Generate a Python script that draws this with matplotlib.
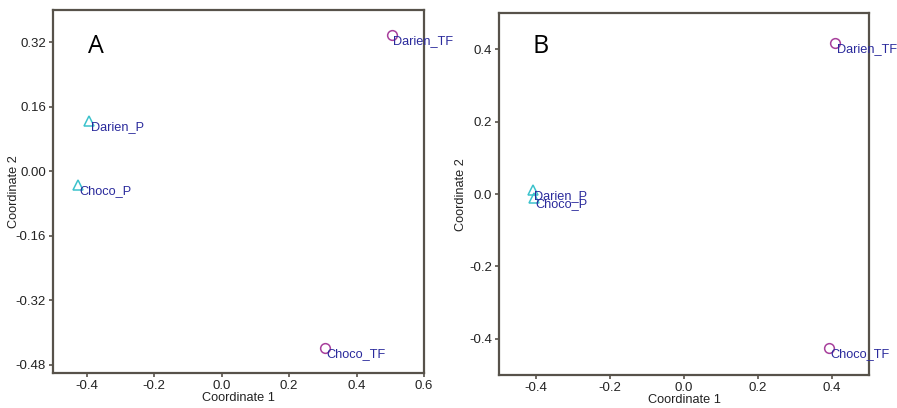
import numpy as np
import matplotlib
matplotlib.use("Agg")
import matplotlib.pyplot as plt

plt.rcParams['font.family'] = ['Liberation Sans', 'DejaVu Sans']

# panel A (PCoA coordinates)
labels_a = ["Darien_TF", "Darien_P", "Choco_P", "Choco_TF"]
coord1_a = [0.504, -0.392, -0.425, 0.306]
coord2_a = [0.339, 0.126, -0.033, -0.437]
groups_a = ["TF", "P", "P", "TF"]

# panel B
labels_b = ["Darien_TF", "Darien_P", "Choco_P", "Choco_TF"]
coord1_b = [0.409, -0.409, -0.405, 0.393]
coord2_b = [0.419, 0.011, -0.010, -0.426]
groups_b = ["TF", "P", "P", "TF"]

xticks_a = [-0.4, -0.2, 0.0, 0.2, 0.4, 0.6]
yticks_a = [-0.48, -0.32, -0.16, 0.0, 0.16, 0.32]
xticks_b = [-0.4, -0.2, 0.0, 0.2, 0.4]
yticks_b = [-0.4, -0.2, 0.0, 0.2, 0.4]

SPINE = '#57524a'
LABEL_BLUE = '#2a2a9c'
marker_style = {
    "TF": dict(marker='o', color='#a8409c'),
    "P": dict(marker='^', color='#3cc2cc'),
}


def draw_panel(ax, labels, xs, ys, groups, xlim, ylim, xticks, yticks, yfmt,
               letter, letter_pos, ylab_x):
    for lab, x, y, g in zip(labels, xs, ys, groups):
        st = marker_style[g]
        ax.plot(x, y, linestyle='none', marker=st['marker'], markersize=7,
                markerfacecolor='none', markeredgecolor=st['color'], markeredgewidth=1.1,
                zorder=3)
        ax.annotate(lab, (x, y), xytext=(1, -4.5), textcoords='offset points',
                    ha='left', va='center', fontsize=9.2, color=LABEL_BLUE, zorder=4,
                    annotation_clip=False)
    ax.set_xlim(*xlim)
    ax.set_ylim(*ylim)
    ax.set_xticks(xticks)
    ax.set_yticks(yticks)
    ax.set_xticklabels([f"{t:.1f}" for t in xticks])
    ax.set_yticklabels([yfmt.format(t) for t in yticks])
    ax.tick_params(direction='out', length=3, width=1.2, color=SPINE,
                   labelsize=9.5, labelcolor='#222222', pad=2)
    for sp in ax.spines.values():
        sp.set_color(SPINE)
        sp.set_linewidth(1.6)
    ax.set_xlabel("Coordinate 1", fontsize=9.2, color='#222222', labelpad=0)
    ax.set_ylabel("Coordinate 2", fontsize=9.2, color='#222222')
    ax.yaxis.set_label_coords(ylab_x, 0.5)
    ax.text(letter_pos[0], letter_pos[1], letter, transform=ax.transAxes,
            fontsize=18, color='black', ha='left', va='center',
            family=['Open Sans', 'DejaVu Sans'])


fig = plt.figure(figsize=(8.97, 4.08), dpi=100)
ax_a = fig.add_axes([0.0591, 0.0858, 0.4136, 0.8897])
ax_b = fig.add_axes([0.5563, 0.0809, 0.4125, 0.8865])

draw_panel(ax_a, labels_a, coord1_a, coord2_a, groups_a, (-0.5, 0.6), (-0.5, 0.4),
           xticks_a, yticks_a, "{:.2f}", "A", (0.095, 0.899), -0.088)
draw_panel(ax_b, labels_b, coord1_b, coord2_b, groups_b, (-0.5, 0.5), (-0.5, 0.5),
           xticks_b, yticks_b, "{:.1f}", "B", (0.09, 0.908), -0.086)

fig.savefig("out.png", dpi=100)
